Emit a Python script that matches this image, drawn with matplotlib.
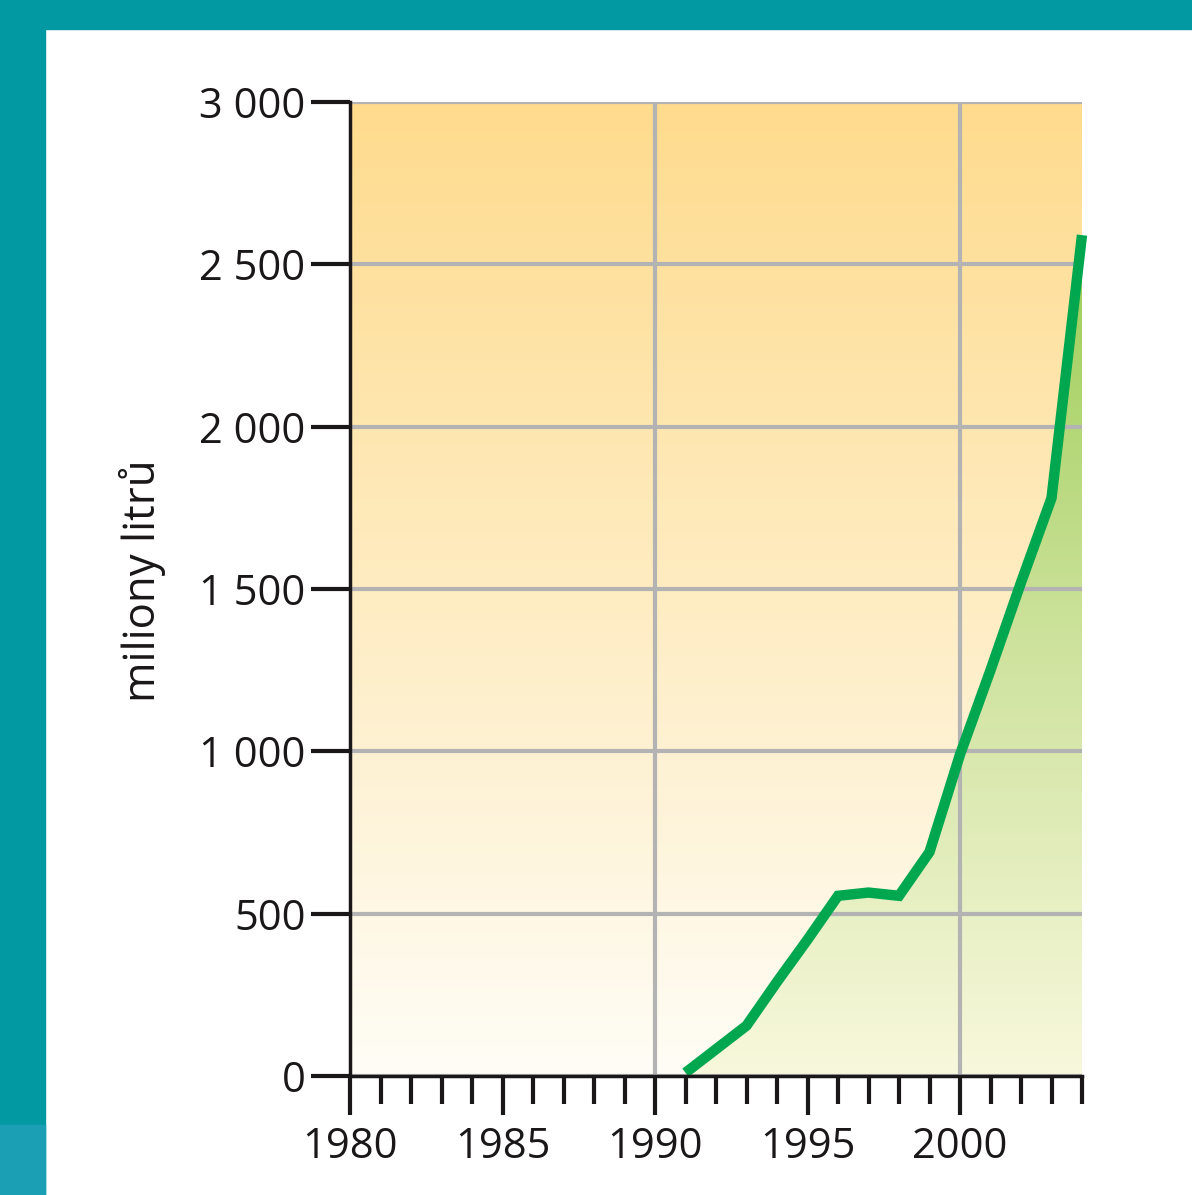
import numpy as np
import matplotlib.pyplot as plt
from matplotlib.colors import LinearSegmentedColormap
from matplotlib.patches import Rectangle
from matplotlib.ticker import FuncFormatter, MultipleLocator

plt.rcParams["font.family"] = ["Open Sans", "DejaVu Sans"]

# data
years = [1991, 1993, 1994, 1995, 1996, 1997, 1998, 1999, 2000, 2001, 2002, 2003, 2004]
volume = [10, 155, 290, 420, 555, 565, 555, 690, 990, 1250, 1520, 1780, 2590]

x_ticks = [1980, 1985, 1990, 1995, 2000]
y_ticks = [0, 500, 1000, 1500, 2000, 2500, 3000]
y_label = "miliony litrů"

TEAL = "#0399a3"
LINE_GREEN = "#00a74f"
INK = "#1a1718"

fig = plt.figure(figsize=(11.92, 11.95), dpi=100)
fig.patch.set_facecolor("white")

# teal frame top and left
fig.patches.append(Rectangle((0, 1 - 29 / 1195), 1, 29 / 1195, transform=fig.transFigure,
                             color=TEAL, zorder=0))
fig.patches.append(Rectangle((0, 0), 45 / 1192, 1, transform=fig.transFigure,
                             color=TEAL, zorder=0))
fig.patches.append(Rectangle((0, 0), 45 / 1192, 70 / 1195, transform=fig.transFigure,
                             color="#1a9fb5", zorder=0))

ax = fig.add_axes([350 / 1192, 1 - 1076 / 1195, (1082 - 350) / 1192, (1076 - 102) / 1195])
x0, x1 = 1980, 2004
y0, y1 = 0, 3000
ax.set_xlim(x0, x1)
ax.set_ylim(y0, y1)

# background gradient (cream bottom -> orange top)
bg_cmap = LinearSegmentedColormap.from_list("bg", ["#fffdf6", "#fedb8d"])
grad = np.linspace(0, 1, 256).reshape(-1, 1)
ax.imshow(grad, cmap=bg_cmap, origin="lower", aspect="auto",
          extent=[x0, x1, y0, y1], zorder=0)

# green gradient fill under the line
fill_cmap = LinearSegmentedColormap.from_list("fill", ["#f8f8dc", "#cfe39f", "#9ccd55"])
top = max(volume)
img = ax.imshow(grad, cmap=fill_cmap, origin="lower", aspect="auto",
                extent=[x0, x1, y0, top], zorder=1)
poly = ax.fill_between(years, volume, 0, color="none", lw=0)
img.set_clip_path(poly.get_paths()[0], transform=ax.transData)

ax.xaxis.set_minor_locator(MultipleLocator(1))
ax.set_xticks(x_ticks)
ax.set_yticks(y_ticks)
ax.grid(True, axis="y", color="#b3b3b3", lw=3, zorder=2)
ax.set_axisbelow(False)
for gx in [1990, 2000]:
    ax.axvline(gx, color="#b3b3b3", lw=3, zorder=2)

ax.plot(years, volume, color=LINE_GREEN, lw=7.5, solid_capstyle="butt",
        solid_joinstyle="miter", zorder=4, clip_on=False)

for side in ["top", "right"]:
    ax.spines[side].set_visible(False)
for side in ["left", "bottom"]:
    ax.spines[side].set_linewidth(2.5)
    ax.spines[side].set_color(INK)
    ax.spines[side].set_zorder(5)

ax.yaxis.set_major_formatter(FuncFormatter(lambda v, _: f"{int(v):,}".replace(",", " ")))
ax.tick_params(axis="both", which="major", length=28, width=3, color=INK,
               labelsize=30, labelcolor=INK)
ax.tick_params(axis="y", which="major", pad=4)
ax.tick_params(axis="x", which="minor", length=20, width=3, color=INK)
ax.tick_params(axis="x", which="major", pad=8)

fig.text(142 / 1192, 1 - 581 / 1195, y_label, rotation=90, fontsize=31.5,
         color=INK, ha="center", va="center")

fig.savefig("out.png", dpi=100)
